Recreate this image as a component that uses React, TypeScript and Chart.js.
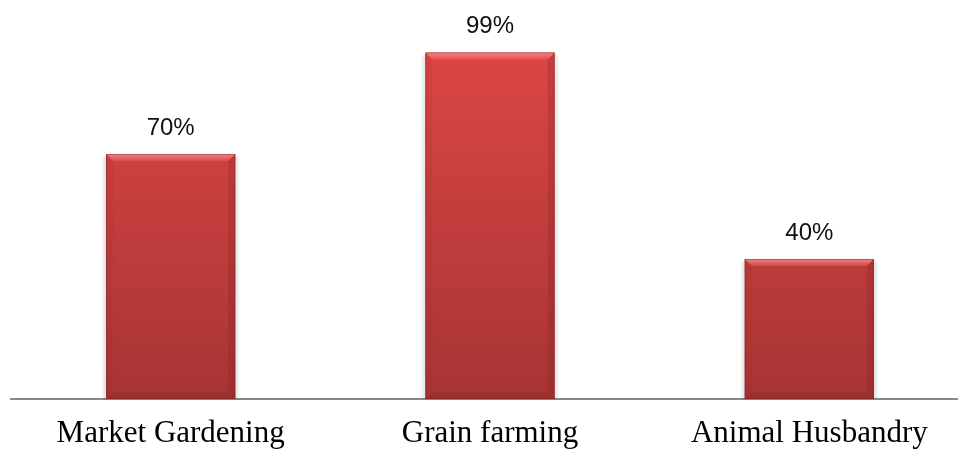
import React, { useEffect, useRef } from "react";
import { Chart, registerables } from "chart.js";

Chart.register(...registerables);

const categories = ["Market Gardening", "Grain farming", "Animal Husbandry"];
const values = [70, 99, 40];
const valueSuffix = "%";

const barBevel = {
  id: "barBevel",
  beforeDatasetsDraw(chart: any) {
    const ctx = chart.ctx;
    const meta = chart.getDatasetMeta(0);
    ctx.save();
    meta.data.forEach((bar: any) => {
      const { x, y, base, width } = bar.getProps(["x", "y", "base", "width"], true);
      const l = x - width / 2;
      ctx.fillStyle = "rgba(0,0,0,0.05)";
      ctx.fillRect(l - 4, y + 3, width + 8, base - y - 3);
      ctx.fillStyle = "rgba(0,0,0,0.05)";
      ctx.fillRect(l - 2, y + 1, width + 4, base - y);
    });
    ctx.restore();
  },
  afterDatasetsDraw(chart: any) {
    const ctx = chart.ctx;
    const meta = chart.getDatasetMeta(0);
    ctx.save();
    meta.data.forEach((bar: any) => {
      const { x, y, base, width } = bar.getProps(["x", "y", "base", "width"], true);
      const l = x - width / 2;
      const r = x + width / 2;
      const b = 7;
      const gt = ctx.createLinearGradient(0, y, 0, y + b);
      gt.addColorStop(0, "rgba(255,150,150,0.85)");
      gt.addColorStop(1, "rgba(255,120,120,0.25)");
      ctx.fillStyle = gt;
      ctx.beginPath();
      ctx.moveTo(l, y);
      ctx.lineTo(r, y);
      ctx.lineTo(r - b, y + b);
      ctx.lineTo(l + b, y + b);
      ctx.closePath();
      ctx.fill();
      ctx.fillStyle = "rgba(150,30,30,0.10)";
      ctx.beginPath();
      ctx.moveTo(l, y);
      ctx.lineTo(l + b, y + b);
      ctx.lineTo(l + b, base - b);
      ctx.lineTo(l, base);
      ctx.closePath();
      ctx.fill();
      ctx.fillStyle = "rgba(110,20,20,0.18)";
      ctx.beginPath();
      ctx.moveTo(r, y);
      ctx.lineTo(r - b, y + b);
      ctx.lineTo(r - b, base - b);
      ctx.lineTo(r, base);
      ctx.closePath();
      ctx.fill();
      ctx.fillStyle = "rgba(100,20,20,0.18)";
      ctx.beginPath();
      ctx.moveTo(l, base);
      ctx.lineTo(l + b, base - b);
      ctx.lineTo(r - b, base - b);
      ctx.lineTo(r, base);
      ctx.closePath();
      ctx.fill();
      ctx.strokeStyle = "rgba(120,40,40,0.5)";
      ctx.lineWidth = 1;
      ctx.strokeRect(l + 0.5, y + 0.5, width - 1, base - y - 1);
    });
    ctx.restore();
  },
};

const valueLabels = {
  id: "valueLabels",
  afterDatasetsDraw(chart: any) {
    const ctx = chart.ctx;
    const meta = chart.getDatasetMeta(0);
    ctx.save();
    ctx.font = '24px "Liberation Sans", Arial, sans-serif';
    ctx.fillStyle = "#111";
    ctx.textAlign = "center";
    ctx.textBaseline = "alphabetic";
    meta.data.forEach((bar: any, i: number) => {
      ctx.fillText(values[i] + valueSuffix, bar.x, bar.y - 19);
    });
    ctx.restore();
  },
};

export default function App() {
  const ref = useRef<HTMLCanvasElement | null>(null);
  useEffect(() => {
    if (!ref.current) return;
    const chart = new Chart(ref.current, {
      type: "bar",
      data: {
        labels: categories,
        datasets: [
          {
            data: values,
            backgroundColor: (c: any) => {
              const area = c.chart.chartArea;
              if (!area) return "#c83c3c";
              const g = c.chart.ctx.createLinearGradient(0, area.top, 0, area.bottom);
              g.addColorStop(0, "#dc4646");
              g.addColorStop(1, "#a83434");
              return g;
            },
            borderWidth: 0,
            barPercentage: 0.405,
            categoryPercentage: 1,
          },
        ],
      },
      options: {
        animation: false,
        responsive: false,
        maintainAspectRatio: false,
        layout: { padding: { left: 11, right: 1, top: 49, bottom: 0 } },
        plugins: { legend: { display: false }, tooltip: { enabled: false } },
        scales: {
          y: { display: false, min: 0, max: 100 },
          x: {
            grid: { display: false, drawTicks: false },
            border: { display: true, color: "#888888", width: 2 },
            ticks: {
              color: "#000",
              padding: 18,
              font: { family: '"Liberation Serif", "Times New Roman", serif', size: 31, lineHeight: 1.1 },
              maxRotation: 0,
              autoSkip: false,
            },
          },
        },
      },
      plugins: [barBevel, valueLabels],
    });
    return () => chart.destroy();
  }, []);
  return (
    <div style={{ position: "fixed", left: 0, top: 0, width: 958, height: 450, overflow: "hidden", background: "#fff" }}>
      <canvas ref={ref} width={970} height={469} style={{ display: "block" }} />
    </div>
  );
}
